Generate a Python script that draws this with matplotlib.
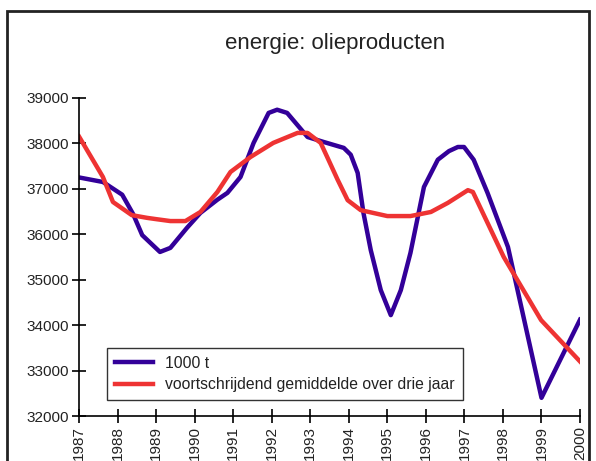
import matplotlib.pyplot as plt
from matplotlib.patches import Rectangle

plt.rcParams['font.family'] = ['Liberation Sans', 'DejaVu Sans']

# 1000 t (fractional years)
jaar_t = [1987.0, 1987.62, 1988.12, 1988.4, 1988.64, 1989.1, 1989.37, 1989.8, 1990.15,
          1990.59, 1990.85, 1991.19, 1991.53, 1991.92, 1992.14, 1992.4, 1992.93,
          1993.35, 1993.87, 1994.05, 1994.23, 1994.38, 1994.57, 1994.83, 1995.09, 1995.35,
          1995.6, 1995.95, 1996.31, 1996.6, 1996.83, 1996.99, 1997.24, 1997.6, 1998.13,
          1999.0, 2000.0]
waarde_t = [37250, 37150, 36870, 36450, 35980, 35610, 35700, 36140, 36470,
            36760, 36910, 37260, 38010, 38670, 38740, 38670, 38140,
            38030, 37900, 37750, 37350, 36470, 35650, 34770, 34220, 34770,
            35590, 37040, 37640, 37830, 37920, 37920, 37640, 36910, 35720,
            32400, 34120]

# voortschrijdend gemiddelde over drie jaar
jaar_gem = [1987.0, 1987.62, 1987.88, 1988.37, 1988.77, 1989.02, 1989.37, 1989.76,
            1990.15, 1990.59, 1990.93, 1991.45, 1992.04, 1992.67, 1992.93, 1993.27,
            1993.45, 1993.71, 1993.97, 1994.31, 1995.0, 1995.6, 1996.13, 1996.57,
            1997.09, 1997.22, 1998.02, 1998.99, 2000.0]
waarde_gem = [38150, 37260, 36710, 36420, 36360, 36330, 36290, 36290,
              36490, 36930, 37370, 37700, 38010, 38230, 38230, 38010,
              37680, 37200, 36750, 36530, 36400, 36400, 36490, 36690,
              36970, 36930, 35500, 34110, 33200]

jaren = list(range(1987, 2001))
y_ticks = list(range(32000, 40000, 1000))

fig = plt.figure(figsize=(5.96, 4.61), dpi=100)
ax = fig.add_axes([0.1326, 0.0976, 0.8406, 0.69])

ax.plot(jaar_t, waarde_t, color='#330099', linewidth=3.2, label='1000 t',
        solid_joinstyle='round')
ax.plot(jaar_gem, waarde_gem, color='#EE3333', linewidth=3.2,
        label='voortschrijdend gemiddelde over drie jaar', solid_joinstyle='round')

ax.set_xlim(1987, 2000)
ax.set_ylim(32000, 39000)
ax.set_xticks(jaren)
ax.set_xticklabels([str(j) for j in jaren], rotation=90, fontsize=11)
ax.set_yticks(y_ticks)
ax.set_yticklabels([str(v) for v in y_ticks], fontsize=11)
ax.tick_params(direction='inout', length=10, width=1.2, colors='black', pad=2)
ax.spines['top'].set_visible(False)
ax.spines['right'].set_visible(False)
ax.spines['left'].set_linewidth(1.2)
ax.spines['bottom'].set_linewidth(1.2)
for lbl in ax.get_xticklabels() + ax.get_yticklabels():
    lbl.set_color('#222222')

leg = ax.legend(loc='lower left', bbox_to_anchor=(0.056, 0.05), fontsize=11.3,
                frameon=True, fancybox=False, edgecolor='black', handlelength=2.4,
                handletextpad=0.8, borderpad=0.5, labelspacing=0.4, borderaxespad=0)
leg.get_frame().set_linewidth(1.0)
for t in leg.get_texts():
    t.set_color('#222222')

fig.text(0.562, 0.905, 'energie: olieproducten', ha='center', va='center',
         fontsize=16, color='#222222')

# outer frame
fig.patches.append(Rectangle((0.0117, -0.05), 0.9765, 1.026, transform=fig.transFigure,
                             fill=False, edgecolor='#222222', linewidth=2))

fig.savefig('out.png', dpi=100)
